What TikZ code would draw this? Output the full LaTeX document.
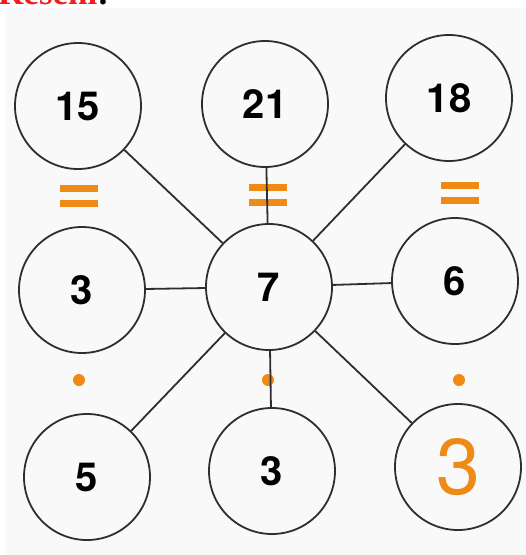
\documentclass[tikz,border=0pt]{standalone}
\usepackage{fontspec}
\usepackage{xcolor}
\usetikzlibrary{positioning}
\newfontfamily\numfont{TeX Gyre Heros}
\newfontfamily\headfont{Liberation Serif}
\definecolor{AnswerOrange}{HTML}{EF8A14}
\definecolor{HeadRed}{HTML}{F01E1E}
\definecolor{RingGray}{HTML}{2E2E2E}
\definecolor{PaperGray}{HTML}{F9F9F9}
\tikzset{
  numcircle/.style={circle, draw=RingGray, line width=1.8pt, minimum size=126pt, inner sep=0pt,
    font=\numfont\bfseries\fontsize{40}{40}\selectfont},
  answer/.style={numcircle, text=AnswerOrange, font=\numfont\fontsize{79}{79}\selectfont},
  link/.style={draw=RingGray, line width=1.8pt},
  eqbar/.style={fill=AnswerOrange},
  dotmark/.style={fill=AnswerOrange}
}

\begin{document}
\begin{tikzpicture}[x=1pt, y=-1pt]
    \clip (0,0) rectangle (526,555);
    \fill[PaperGray] (5,8) rectangle (526,555);
    \node[anchor=base west, inner sep=0pt, font=\headfont\bfseries\fontsize{35}{35}\selectfont] (head) at (-2,4) {\textcolor{HeadRed}{Rešeni}:};

    % equals signs and dots
    \foreach \x/\y in {79/196, 268/195, 460/193} {
      \fill[eqbar] (\x-19,\y-11.5) rectangle (\x+19,\y-4.5);
      \fill[eqbar] (\x-19,\y+3.5) rectangle (\x+19,\y+10.5);
    }
    \foreach \x in {79, 268, 459}
      \fill[dotmark] (\x,380) circle (6);

    % number circles
    \node[numcircle] (tl) at (78,106) {15};
    \node[numcircle] (tm) at (265,104) {21};
    \node[numcircle] (tr) at (449,98) {18};
    \node[numcircle] (ml) at (82,290) {3};
    \node[numcircle] (c) at (269,287) {7};
    \node[numcircle] (mr) at (455,281) {6};
    \node[numcircle] (bl) at (87,477) {5};
    \node[numcircle] (bm) at (272,471) {3};
    \node[answer] (br) at (458,467) {3};

    \foreach \n in {tl, tm, tr, ml, mr, bl, bm, br}
      \draw[link] (c) -- (\n);
  \end{tikzpicture}
\end{document}
